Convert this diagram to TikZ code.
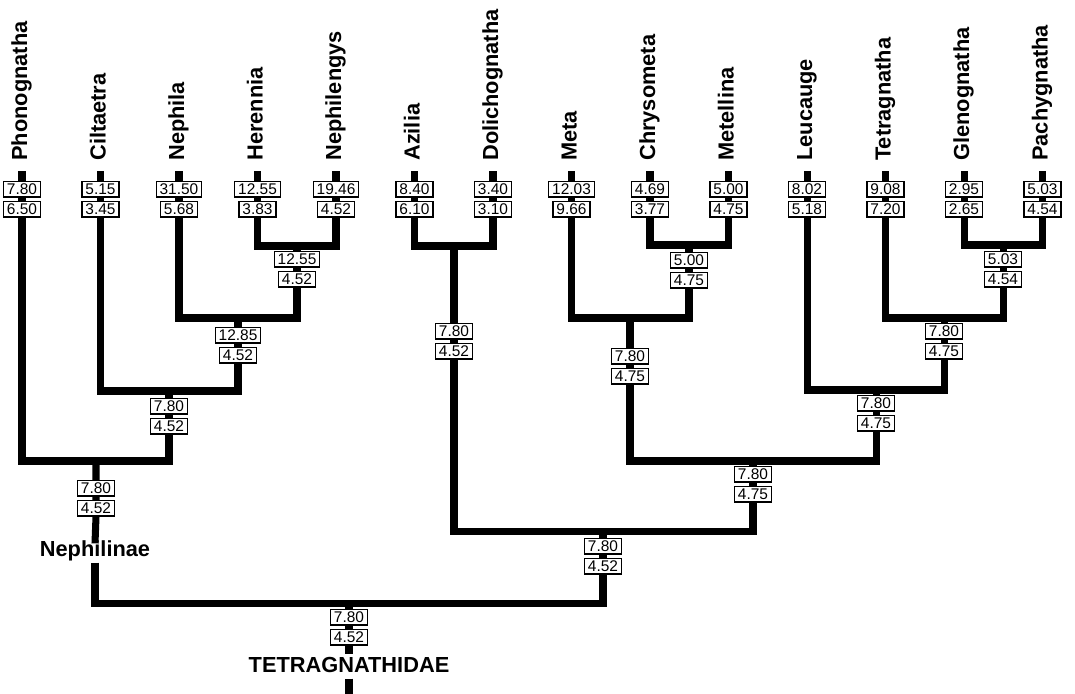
\documentclass[tikz,border=0pt]{standalone}
\usepackage{fontspec}
\setmainfont{Liberation Sans}
\usetikzlibrary{backgrounds}

\begin{document}
\begin{tikzpicture}[
        x=0.025cm, y=-0.025cm,
        taxon/.style={
            rotate=90,
            anchor=west,
            inner sep=0pt,
            text height=0.72em,
            text depth=0pt,
            font=\fontsize{15.5}{18}\selectfont\bfseries
          },
        group/.style={
            inner sep=2pt,
            text height=0.72em,
            text depth=0.21em,
            font=\fontsize{15.5}{18}\selectfont\bfseries
          },
        val/.style={
            draw=black,
            fill=white,
            line width=1pt,
            inner xsep=2.4pt,
            inner ysep=1.6pt,
            text height=7.9pt,
            text depth=0pt,
            font=\fontsize{11}{12}\selectfont
          },
        branch/.style={black, line width=5pt}
      ]
      \useasboundingbox (0,0) rectangle (1075,693);

      \node[taxon] (phonognatha) at (22,161) {Phonognatha};
      \node[taxon] (ciltaetra) at (100.5,161) {Ciltaetra};
      \node[taxon] (nephila) at (179,161) {Nephila};
      \node[taxon] (herennia) at (257.5,161) {Herennia};
      \node[taxon] (nephilengys) at (336,161) {Nephilengys};
      \node[taxon] (azilia) at (414.5,161) {Azilia};
      \node[taxon] (dolichognatha) at (493,161) {Dolichognatha};
      \node[taxon] (meta) at (571.5,161) {Meta};
      \node[taxon] (chrysometa) at (650,161) {Chrysometa};
      \node[taxon] (metellina) at (728.5,161) {Metellina};
      \node[taxon] (leucauge) at (807,161) {Leucauge};
      \node[taxon] (tetragnatha) at (885.5,161) {Tetragnatha};
      \node[taxon] (glenognatha) at (964,161) {Glenognatha};
      \node[taxon] (pachygnatha) at (1042.5,161) {Pachygnatha};

      \node[val] (phonognatha_hi) at (22,189) {7.80};
      \node[val] (phonognatha_lo) at (22,209) {6.50};
      \node[val] (ciltaetra_hi) at (100.5,189) {5.15};
      \node[val] (ciltaetra_lo) at (100.5,209) {3.45};
      \node[val] (nephila_hi) at (179,189) {31.50};
      \node[val] (nephila_lo) at (179,209) {5.68};
      \node[val] (herennia_hi) at (257.5,189) {12.55};
      \node[val] (herennia_lo) at (257.5,209) {3.83};
      \node[val] (nephilengys_hi) at (336,189) {19.46};
      \node[val] (nephilengys_lo) at (336,209) {4.52};
      \node[val] (azilia_hi) at (414.5,189) {8.40};
      \node[val] (azilia_lo) at (414.5,209) {6.10};
      \node[val] (dolichognatha_hi) at (493,189) {3.40};
      \node[val] (dolichognatha_lo) at (493,209) {3.10};
      \node[val] (meta_hi) at (571.5,189) {12.03};
      \node[val] (meta_lo) at (571.5,209) {9.66};
      \node[val] (chrysometa_hi) at (650,189) {4.69};
      \node[val] (chrysometa_lo) at (650,209) {3.77};
      \node[val] (metellina_hi) at (728.5,189) {5.00};
      \node[val] (metellina_lo) at (728.5,209) {4.75};
      \node[val] (leucauge_hi) at (807,189) {8.02};
      \node[val] (leucauge_lo) at (807,209) {5.18};
      \node[val] (tetragnatha_hi) at (885.5,189) {9.08};
      \node[val] (tetragnatha_lo) at (885.5,209) {7.20};
      \node[val] (glenognatha_hi) at (964,189) {2.95};
      \node[val] (glenognatha_lo) at (964,209) {2.65};
      \node[val] (pachygnatha_hi) at (1042.5,189) {5.03};
      \node[val] (pachygnatha_lo) at (1042.5,209) {4.54};

      \coordinate (hn) at (297,246);
      \node[val] (hn_hi) at (297,259) {12.55};
      \node[val] (hn_lo) at (297,279) {4.52};
      \coordinate (nhn) at (238,318);
      \node[val] (nhn_hi) at (238,335) {12.85};
      \node[val] (nhn_lo) at (238,355) {4.52};
      \coordinate (cn) at (169,391);
      \node[val] (cn_hi) at (169,406) {7.80};
      \node[val] (cn_lo) at (169,426) {4.52};
      \coordinate (neph) at (96,461);
      \node[val] (neph_hi) at (96,488) {7.80};
      \node[val] (neph_lo) at (96,508) {4.52};
      \node[group] (nephilinae) at (95,553) {Nephilinae};

      \coordinate (ad) at (454,246);
      \node[val] (ad_hi) at (454,331) {7.80};
      \node[val] (ad_lo) at (454,351) {4.52};
      \coordinate (cm) at (689,245);
      \node[val] (cm_hi) at (689,260) {5.00};
      \node[val] (cm_lo) at (689,280) {4.75};
      \coordinate (mcm) at (630,318);
      \node[val] (mcm_hi) at (630,356) {7.80};
      \node[val] (mcm_lo) at (630,376) {4.75};
      \coordinate (gp) at (1003,245);
      \node[val] (gp_hi) at (1003,259) {5.03};
      \node[val] (gp_lo) at (1003,279) {4.54};
      \coordinate (tgp) at (944,318);
      \node[val] (tgp_hi) at (944,331) {7.80};
      \node[val] (tgp_lo) at (944,351) {4.75};
      \coordinate (ltgp) at (876,390);
      \node[val] (ltgp_hi) at (876,403) {7.80};
      \node[val] (ltgp_lo) at (876,423) {4.75};
      \coordinate (mlt) at (753,461);
      \node[val] (mlt_hi) at (753,474) {7.80};
      \node[val] (mlt_lo) at (753,494) {4.75};
      \coordinate (adm) at (603,531);
      \node[val] (adm_hi) at (603,546) {7.80};
      \node[val] (adm_lo) at (603,566) {4.52};

      \coordinate (root) at (349,603);
      \node[val] (root_hi) at (349,617) {7.80};
      \node[val] (root_lo) at (349,637) {4.52};
      \node[group] (tetragnathidae) at (349,669) {TETRAGNATHIDAE};

      \begin{scope}[on background layer]
        \draw[branch] ([yshift=6.5pt]phonognatha_hi.north) -- (phonognatha_lo.south);
        \draw[branch] ([yshift=6.5pt]ciltaetra_hi.north) -- (ciltaetra_lo.south);
        \draw[branch] ([yshift=6.5pt]nephila_hi.north) -- (nephila_lo.south);
        \draw[branch] ([yshift=6.5pt]herennia_hi.north) -- (herennia_lo.south);
        \draw[branch] ([yshift=6.5pt]nephilengys_hi.north) -- (nephilengys_lo.south);
        \draw[branch] ([yshift=6.5pt]azilia_hi.north) -- (azilia_lo.south);
        \draw[branch] ([yshift=6.5pt]dolichognatha_hi.north) -- (dolichognatha_lo.south);
        \draw[branch] ([yshift=6.5pt]meta_hi.north) -- (meta_lo.south);
        \draw[branch] ([yshift=6.5pt]chrysometa_hi.north) -- (chrysometa_lo.south);
        \draw[branch] ([yshift=6.5pt]metellina_hi.north) -- (metellina_lo.south);
        \draw[branch] ([yshift=6.5pt]leucauge_hi.north) -- (leucauge_lo.south);
        \draw[branch] ([yshift=6.5pt]tetragnatha_hi.north) -- (tetragnatha_lo.south);
        \draw[branch] ([yshift=6.5pt]glenognatha_hi.north) -- (glenognatha_lo.south);
        \draw[branch] ([yshift=6.5pt]pachygnatha_hi.north) -- (pachygnatha_lo.south);

        \draw[branch] (herennia_lo.south) |- (hn) -| (nephilengys_lo.south);
        \draw[branch] (hn) -- (hn_lo.south);
        \draw[branch] (nephila_lo.south) |- (nhn) -| (hn_lo.south);
        \draw[branch] (nhn) -- (nhn_lo.south);
        \draw[branch] (ciltaetra_lo.south) |- (cn) -| (nhn_lo.south);
        \draw[branch] (cn) -- (cn_lo.south);
        \draw[branch] (phonognatha_lo.south) |- (neph) -| (cn_lo.south);
        \draw[branch] (neph) -- (neph_lo.south) -- (nephilinae.north);

        \draw[branch] (azilia_lo.south) |- (ad) -| (dolichognatha_lo.south);
        \draw[branch] (ad) -- (ad_lo.south);
        \draw[branch] (chrysometa_lo.south) |- (cm) -| (metellina_lo.south);
        \draw[branch] (cm) -- (cm_lo.south);
        \draw[branch] (meta_lo.south) |- (mcm) -| (cm_lo.south);
        \draw[branch] (mcm) -- (mcm_lo.south);
        \draw[branch] (glenognatha_lo.south) |- (gp) -| (pachygnatha_lo.south);
        \draw[branch] (gp) -- (gp_lo.south);
        \draw[branch] (tetragnatha_lo.south) |- (tgp) -| (gp_lo.south);
        \draw[branch] (tgp) -- (tgp_lo.south);
        \draw[branch] (leucauge_lo.south) |- (ltgp) -| (tgp_lo.south);
        \draw[branch] (ltgp) -- (ltgp_lo.south);
        \draw[branch] (mcm_lo.south) |- (mlt) -| (ltgp_lo.south);
        \draw[branch] (mlt) -- (mlt_lo.south);
        \draw[branch] (ad_lo.south) |- (adm) -| (mlt_lo.south);
        \draw[branch] (adm) -- (adm_lo.south);

        \draw[branch] (nephilinae.south) |- (root) -| (adm_lo.south);
        \draw[branch] (root) -- (root_lo.south) -- ++(0,8);
        \draw[branch] (tetragnathidae.south) -- ++(0,15);
      \end{scope}
    \end{tikzpicture}
\end{document}
